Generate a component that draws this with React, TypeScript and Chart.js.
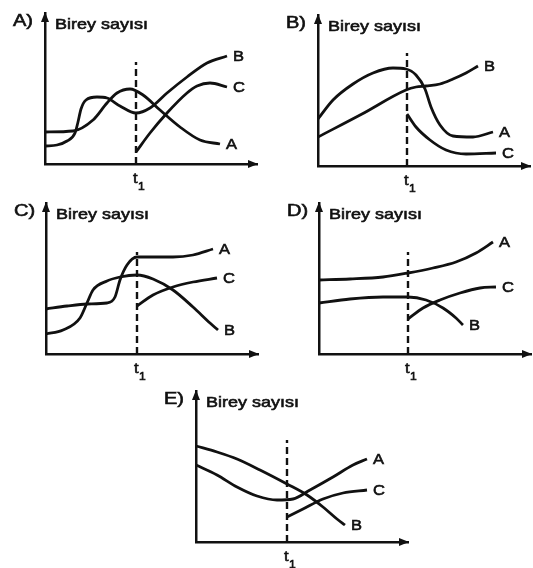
import React, { useEffect, useRef } from "react";
import { Chart, registerables } from "chart.js";

Chart.register(...registerables);

type Pts = [number, number][];

// ---- text ----
const panelNames = ["A)", "B)", "C)", "D)", "E)"];
const axisTitle = "Birey sayısı";
const seriesNames = ["A", "B", "C"];

// ---- time t1 per panel and top of the dashed marker (same units as data) ----
const t1Values = [91, 89, 91, 89, 91];
const dashTops = [102, 113, 102, 102, 102];

// ---- Panel A ----
const panelA_A: Pts = [[0, 32], [28, 33], [48, 44], [62, 61], [72, 71], [85, 75], [98, 69], [115, 54], [135, 37], [155, 24], [175, 20]];
const panelA_B: Pts = [[0, 18], [12, 19], [22, 23], [30, 31], [33, 42], [36, 55], [41, 64], [52, 67], [62, 66], [75, 58], [91, 51], [105, 56], [122, 71], [142, 87], [162, 101], [182, 108]];
const panelA_C: Pts = [[91, 12], [105, 31], [122, 51], [142, 71], [152, 78], [165, 81], [182, 77]];

// ---- Panel B ----
const panelB_A: Pts = [[0, 47], [15, 66], [35, 82], [55, 93], [75, 98], [88, 97], [98, 91], [107, 77], [113, 59], [122, 41], [135, 30], [155, 29], [175, 34]];
const panelB_B: Pts = [[0, 29], [44, 52], [88, 76], [98, 79], [108, 80], [122, 82], [135, 87], [148, 93], [160, 100]];
const panelB_C: Pts = [[89, 52], [98, 39], [112, 26], [128, 16], [148, 12], [178, 13]];

// ---- Panel C ----
const panelC_A: Pts = [[0, 45], [21, 48], [41, 50], [61, 51], [69, 57], [74, 74], [81, 89], [91, 97], [104, 97], [127, 97], [147, 99], [167, 105]];
const panelC_B: Pts = [[0, 20], [17, 24], [34, 36], [41, 51], [47, 64], [61, 73], [74, 77], [91, 79], [107, 75], [127, 64], [147, 47], [164, 31], [172, 24]];
const panelC_C: Pts = [[91, 48], [107, 59], [127, 67], [147, 72], [171, 76]];

// ---- Panel D ----
const panelD_A: Pts = [[0, 74], [31, 75], [64, 77], [89, 81], [114, 86], [137, 92], [157, 101], [174, 112]];
const panelD_B: Pts = [[0, 51], [31, 55], [64, 57], [89, 57], [107, 54], [124, 46], [137, 36], [144, 29]];
const panelD_C: Pts = [[89, 35], [104, 46], [121, 54], [141, 61], [161, 66], [177, 67]];

// ---- Panel E ----
const panelE_A: Pts = [[0, 77], [21, 67], [41, 55], [61, 46], [81, 42], [97, 43], [114, 52], [137, 65], [157, 77], [171, 83]];
const panelE_B: Pts = [[0, 96], [21, 90], [41, 83], [64, 72], [91, 58], [111, 47], [127, 35], [141, 23], [149, 17]];
const panelE_C: Pts = [[91, 25], [107, 33], [127, 43], [147, 49], [171, 52]];

const panelSeries: Pts[][] = [
  [panelA_A, panelA_B, panelA_C],
  [panelB_A, panelB_B, panelB_C],
  [panelC_A, panelC_B, panelC_C],
  [panelD_A, panelD_B, panelD_C],
  [panelE_A, panelE_B, panelE_C],
];

// ---- layout ----
const X_MAX = 212;
const Y_MAX = 151;
const PAD = { left: 45, top: 13, right: 9, bottom: 32 };
const W = PAD.left + X_MAX + PAD.right;
const H = PAD.top + Y_MAX + PAD.bottom;
const origins: [number, number][] = [
  [45, 164],
  [318, 166],
  [46, 354],
  [319, 354],
  [196, 542],
];

const INK = "#111";
const FONT = '"Liberation Sans", Arial, Helvetica, sans-serif';

function drawText(ctx: CanvasRenderingContext2D, text: string, x: number, y: number, size: number, sx: number) {
  ctx.save();
  ctx.font = `${size}px ${FONT}`;
  ctx.translate(x, y);
  ctx.scale(sx, 1);
  ctx.fillStyle = INK;
  ctx.strokeStyle = INK;
  ctx.lineWidth = 0.6;
  ctx.fillText(text, 0, 0);
  ctx.strokeText(text, 0, 0);
  ctx.restore();
}

const decor = {
  id: "decor",
  afterDraw(chart: any, _args: any, opts: any) {
    const { ctx, chartArea } = chart;
    const { left, top, right, bottom } = chartArea;
    const xs = chart.scales.x;
    ctx.save();
    ctx.fillStyle = INK;
    // arrow heads
    ctx.beginPath();
    ctx.moveTo(left, top - 1);
    ctx.lineTo(left - 4, top + 9);
    ctx.lineTo(left + 4, top + 9);
    ctx.closePath();
    ctx.fill();
    ctx.beginPath();
    ctx.moveTo(right + 1, bottom);
    ctx.lineTo(right - 9, bottom - 4);
    ctx.lineTo(right - 9, bottom + 4);
    ctx.closePath();
    ctx.fill();
    // texts
    ctx.textAlign = "left";
    ctx.textBaseline = "alphabetic";
    drawText(ctx, opts.panel, left - 32, top + 13, 16, 1.25);
    drawText(ctx, axisTitle, left + 10, top + 16, 15, 1.2);
    const tx = xs.getPixelForValue(opts.t1);
    drawText(ctx, "t", tx - 3, bottom + 19, 15, 1.1);
    drawText(ctx, "1", tx + 2, bottom + 26, 11, 1.1);
    // series end labels
    ctx.textBaseline = "middle";
    chart.data.datasets.forEach((ds: any, i: number) => {
      if (!ds.label) return;
      const meta = chart.getDatasetMeta(i);
      const pt = meta.data[meta.data.length - 1];
      if (!pt) return;
      drawText(ctx, ds.label, pt.x + 6, pt.y + 1, 15, 1.1);
    });
    ctx.restore();
  },
};

function Panel({ index }: { index: number }) {
  const ref = useRef<HTMLCanvasElement | null>(null);
  useEffect(() => {
    if (!ref.current) return;
    const t1 = t1Values[index];
    const datasets: any[] = [
      {
        label: "",
        data: [
          { x: t1, y: 0 },
          { x: t1, y: dashTops[index] },
        ],
        borderColor: INK,
        borderWidth: 2.4,
        borderDash: [7, 4],
        pointRadius: 0,
        clip: false,
        order: 2,
      },
    ];
    panelSeries[index].forEach((pts, k) => {
      datasets.push({
        label: seriesNames[k],
        data: pts.map(([x, y]) => ({ x, y })),
        borderColor: INK,
        borderWidth: 2.8,
        pointRadius: 0,
        cubicInterpolationMode: "monotone",
        fill: false,
        clip: false,
        order: 1,
      });
    });
    const chart = new Chart(ref.current, {
      type: "line",
      data: { datasets },
      plugins: [decor as any],
      options: {
        animation: false,
        responsive: false,
        devicePixelRatio: 1,
        events: [],
        layout: { padding: PAD },
        plugins: {
          legend: { display: false },
          tooltip: { enabled: false },
          decor: { panel: panelNames[index], t1 },
        } as any,
        scales: {
          x: {
            type: "linear",
            min: 0,
            max: X_MAX,
            grid: { display: false, drawTicks: false },
            ticks: { display: false },
            border: { display: true, color: INK, width: 2.5 },
            afterFit: (s: any) => {
              s.height = 0;
            },
          },
          y: {
            type: "linear",
            min: 0,
            max: Y_MAX,
            grid: { display: false, drawTicks: false },
            ticks: { display: false },
            border: { display: true, color: INK, width: 2.5 },
            afterFit: (s: any) => {
              s.width = 0;
            },
          },
        },
      } as any,
    });
    return () => chart.destroy();
  }, [index]);
  const [ox, oy] = origins[index];
  return (
    <canvas
      ref={ref}
      width={W}
      height={H}
      style={{ position: "absolute", left: ox - PAD.left, top: oy - Y_MAX - PAD.top, width: W, height: H }}
    />
  );
}

export default function App() {
  return (
    <div style={{ position: "absolute", left: 0, top: 0, width: 533, height: 568, overflow: "hidden", background: "#fff" }}>
      {[0, 1, 2, 3, 4].map((i) => (
        <Panel key={i} index={i} />
      ))}
    </div>
  );
}
